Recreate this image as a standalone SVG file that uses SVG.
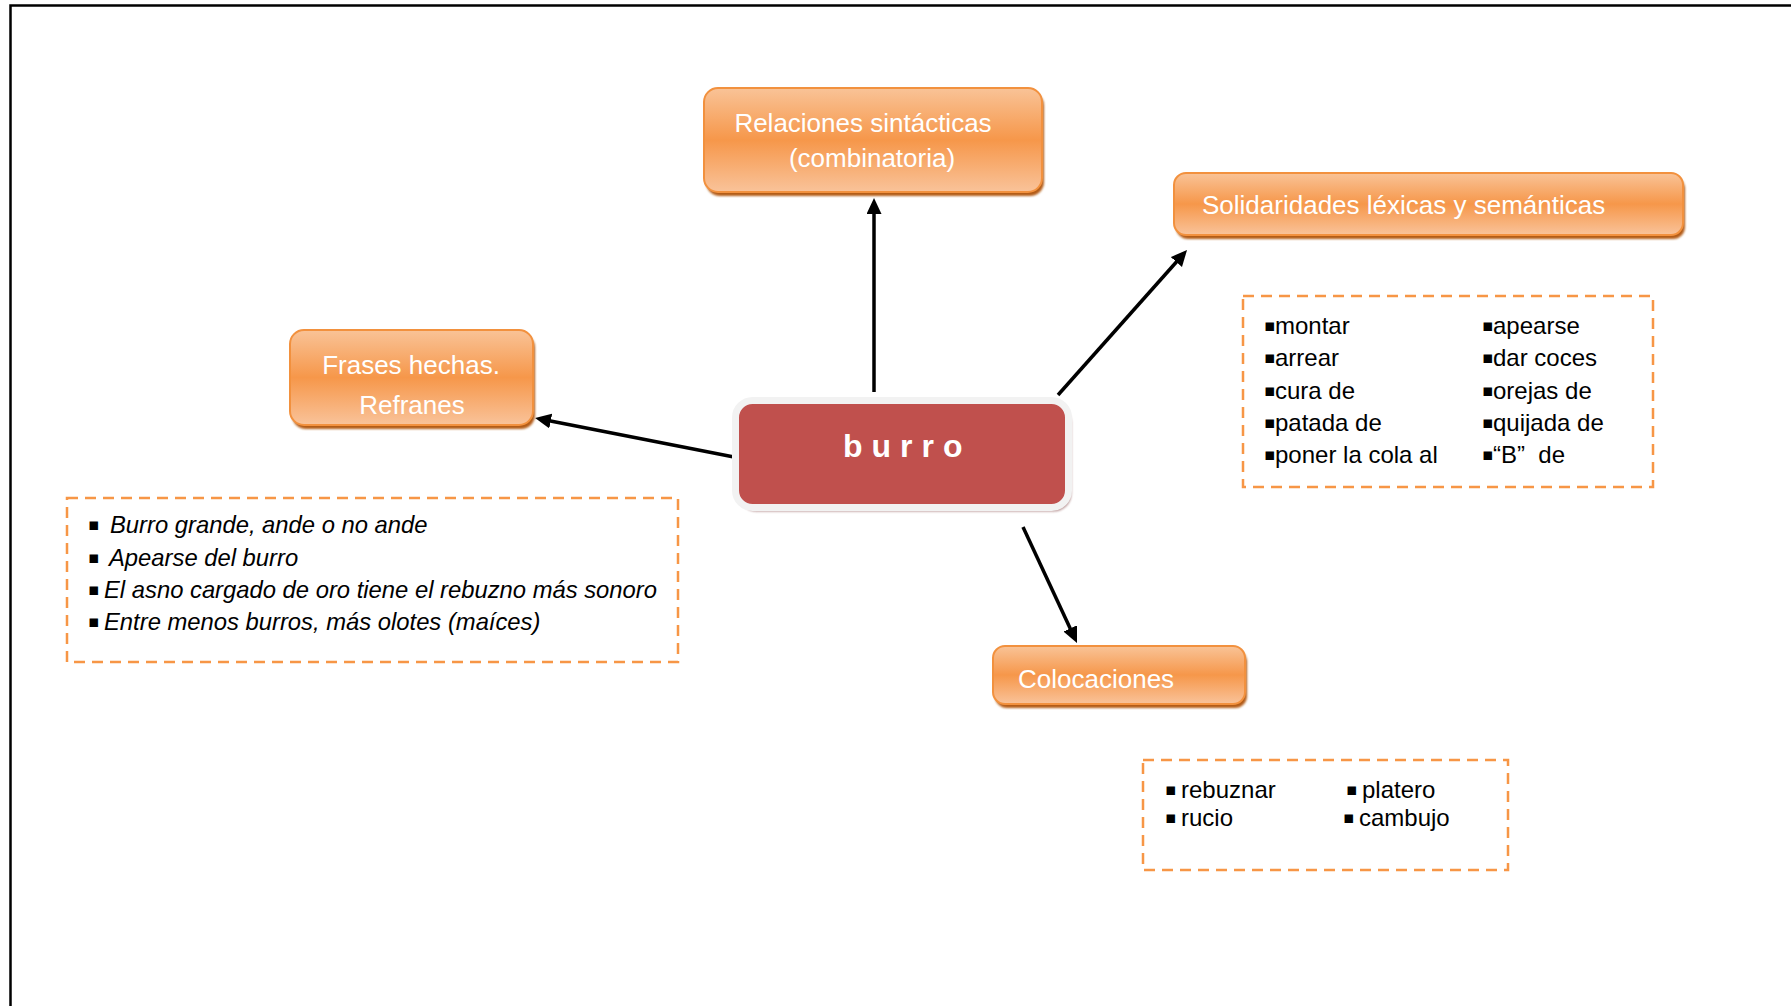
<svg xmlns="http://www.w3.org/2000/svg" width="1791" height="1006" viewBox="0 0 1791 1006">
  <defs>
    <linearGradient id="og" x1="0" y1="0" x2="0" y2="1">
      <stop offset="0" stop-color="#F9C397"/>
      <stop offset="0.5" stop-color="#F6974A"/>
      <stop offset="1" stop-color="#F9C39A"/>
    </linearGradient>
    <filter id="soft" x="-5%" y="-20%" width="110%" height="140%">
      <feGaussianBlur stdDeviation="1.2"/>
    </filter>
    <marker id="arrow" markerUnits="userSpaceOnUse" markerWidth="18" markerHeight="16" refX="8" refY="7.5" orient="auto">
      <path d="M0,0 L16,7.5 L0,15 z" fill="#000"/>
    </marker>
  </defs>
  <style>
    .lbl{font-family:"Liberation Sans",Arial,sans-serif;font-size:26px;fill:#fff}
    .item{font-family:"Liberation Sans",Arial,sans-serif;font-size:24px;fill:#000}
    .it{font-style:italic;font-size:23.8px}
    .bul{font-family:"DejaVu Sans",sans-serif;font-size:17px;font-style:normal;baseline-shift:3px}
    .dash{fill:none;stroke:#F79646;stroke-width:2.5;stroke-dasharray:11 7}
    .box{fill:url(#og);stroke:#F2913E;stroke-width:2}
    .shadow{fill:#B35C18;filter:url(#soft)}
    .conn{stroke:#000;stroke-width:3.5;fill:none;marker-end:url(#arrow)}
  </style>

  <!-- page frame (top and left edges) -->
  <path d="M10.5,1006 L10.5,5.5 L1791,5.5" fill="none" stroke="#000" stroke-width="2.5"/>

  <!-- connectors -->
  <g id="connectors">
    <line class="conn" x1="874" y1="392" x2="874" y2="206"/>
    <line class="conn" x1="1058" y1="395" x2="1181.7" y2="256"/>
    <line class="conn" x1="1023" y1="527" x2="1073.6" y2="635.7"/>
    <line class="conn" x1="734" y1="457" x2="542.9" y2="419.5"/>
  </g>

  <!-- central node -->
  <g id="burro">
    <rect x="738.5" y="404.5" width="333" height="107" rx="18" fill="#9C6B6B" opacity="0.7" filter="url(#soft)"/>
    <rect x="735.5" y="400.5" width="333" height="107" rx="17" fill="#C0504D" stroke="#F2F2F2" stroke-width="7"/>
    <text x="843" y="457" font-family="'Liberation Sans',Arial,sans-serif" font-size="32" font-weight="bold" letter-spacing="9" fill="#fff">burro</text>
  </g>

  <!-- Relaciones sintácticas -->
  <g id="relaciones">
    <rect class="shadow" x="706" y="92" width="338" height="104" rx="14"/>
    <rect class="box" x="704" y="88" width="338" height="104" rx="14"/>
    <text class="lbl" x="863" y="132" text-anchor="middle">Relaciones sintácticas</text>
    <text class="lbl" x="872" y="167" text-anchor="middle">(combinatoria)</text>
  </g>

  <!-- Solidaridades léxicas y semánticas -->
  <g id="solidaridades">
    <rect class="shadow" x="1176" y="177" width="509" height="62" rx="12"/>
    <rect class="box" x="1174" y="173" width="509" height="62" rx="12"/>
    <text class="lbl" x="1202" y="214">Solidaridades léxicas y semánticas</text>
  </g>

  <!-- Frases hechas. Refranes -->
  <g id="frases">
    <rect class="shadow" x="292" y="334" width="243" height="95" rx="14"/>
    <rect class="box" x="290" y="330" width="243" height="95" rx="14"/>
    <text class="lbl" x="411" y="374" text-anchor="middle">Frases hechas.</text>
    <text class="lbl" x="412" y="414" text-anchor="middle">Refranes</text>
  </g>

  <!-- Colocaciones -->
  <g id="colocaciones">
    <rect class="shadow" x="995" y="650" width="252" height="58" rx="12"/>
    <rect class="box" x="993" y="646" width="252" height="58" rx="12"/>
    <text class="lbl" x="1018" y="688">Colocaciones</text>
  </g>

  <!-- list under Solidaridades -->
  <g id="lista-solidaridades">
    <rect class="dash" x="1243" y="296" width="410" height="191"/>
    <text class="item" y="334"><tspan class="bul" x="1264">▪</tspan><tspan x="1275">montar</tspan></text>
    <text class="item" y="366"><tspan class="bul" x="1264">▪</tspan><tspan x="1275">arrear</tspan></text>
    <text class="item" y="399"><tspan class="bul" x="1264">▪</tspan><tspan x="1275">cura de</tspan></text>
    <text class="item" y="431"><tspan class="bul" x="1264">▪</tspan><tspan x="1275">patada de</tspan></text>
    <text class="item" y="463"><tspan class="bul" x="1264">▪</tspan><tspan x="1275">poner la cola al</tspan></text>
    <text class="item" y="334"><tspan class="bul" x="1482">▪</tspan><tspan x="1493">apearse</tspan></text>
    <text class="item" y="366"><tspan class="bul" x="1482">▪</tspan><tspan x="1493">dar coces</tspan></text>
    <text class="item" y="399"><tspan class="bul" x="1482">▪</tspan><tspan x="1493">orejas de</tspan></text>
    <text class="item" y="431"><tspan class="bul" x="1482">▪</tspan><tspan x="1493">quijada de</tspan></text>
    <text class="item" y="463"><tspan class="bul" x="1482">▪</tspan><tspan x="1493" xml:space="preserve">“B”  de</tspan></text>
  </g>

  <!-- sayings under Frases hechas -->
  <g id="lista-frases">
    <rect class="dash" x="67" y="498" width="611" height="164"/>
    <text class="item it" y="533"><tspan class="bul" x="88">▪</tspan><tspan x="110">Burro grande, ande o no ande</tspan></text>
    <text class="item it" y="566"><tspan class="bul" x="88">▪</tspan><tspan x="109">Apearse del burro</tspan></text>
    <text class="item it" y="598"><tspan class="bul" x="88">▪</tspan><tspan x="104">El asno cargado de oro tiene el rebuzno más sonoro</tspan></text>
    <text class="item it" y="630"><tspan class="bul" x="88">▪</tspan><tspan x="104">Entre menos burros, más olotes (maíces)</tspan></text>
  </g>

  <!-- list under Colocaciones -->
  <g id="lista-colocaciones">
    <rect class="dash" x="1143" y="760" width="365" height="110"/>
    <text class="item" y="798"><tspan class="bul" x="1165">▪</tspan><tspan x="1181">rebuznar</tspan></text>
    <text class="item" y="826"><tspan class="bul" x="1165">▪</tspan><tspan x="1181">rucio</tspan></text>
    <text class="item" y="798"><tspan class="bul" x="1346">▪</tspan><tspan x="1362">platero</tspan></text>
    <text class="item" y="826"><tspan class="bul" x="1343">▪</tspan><tspan x="1359">cambujo</tspan></text>
  </g>
</svg>
